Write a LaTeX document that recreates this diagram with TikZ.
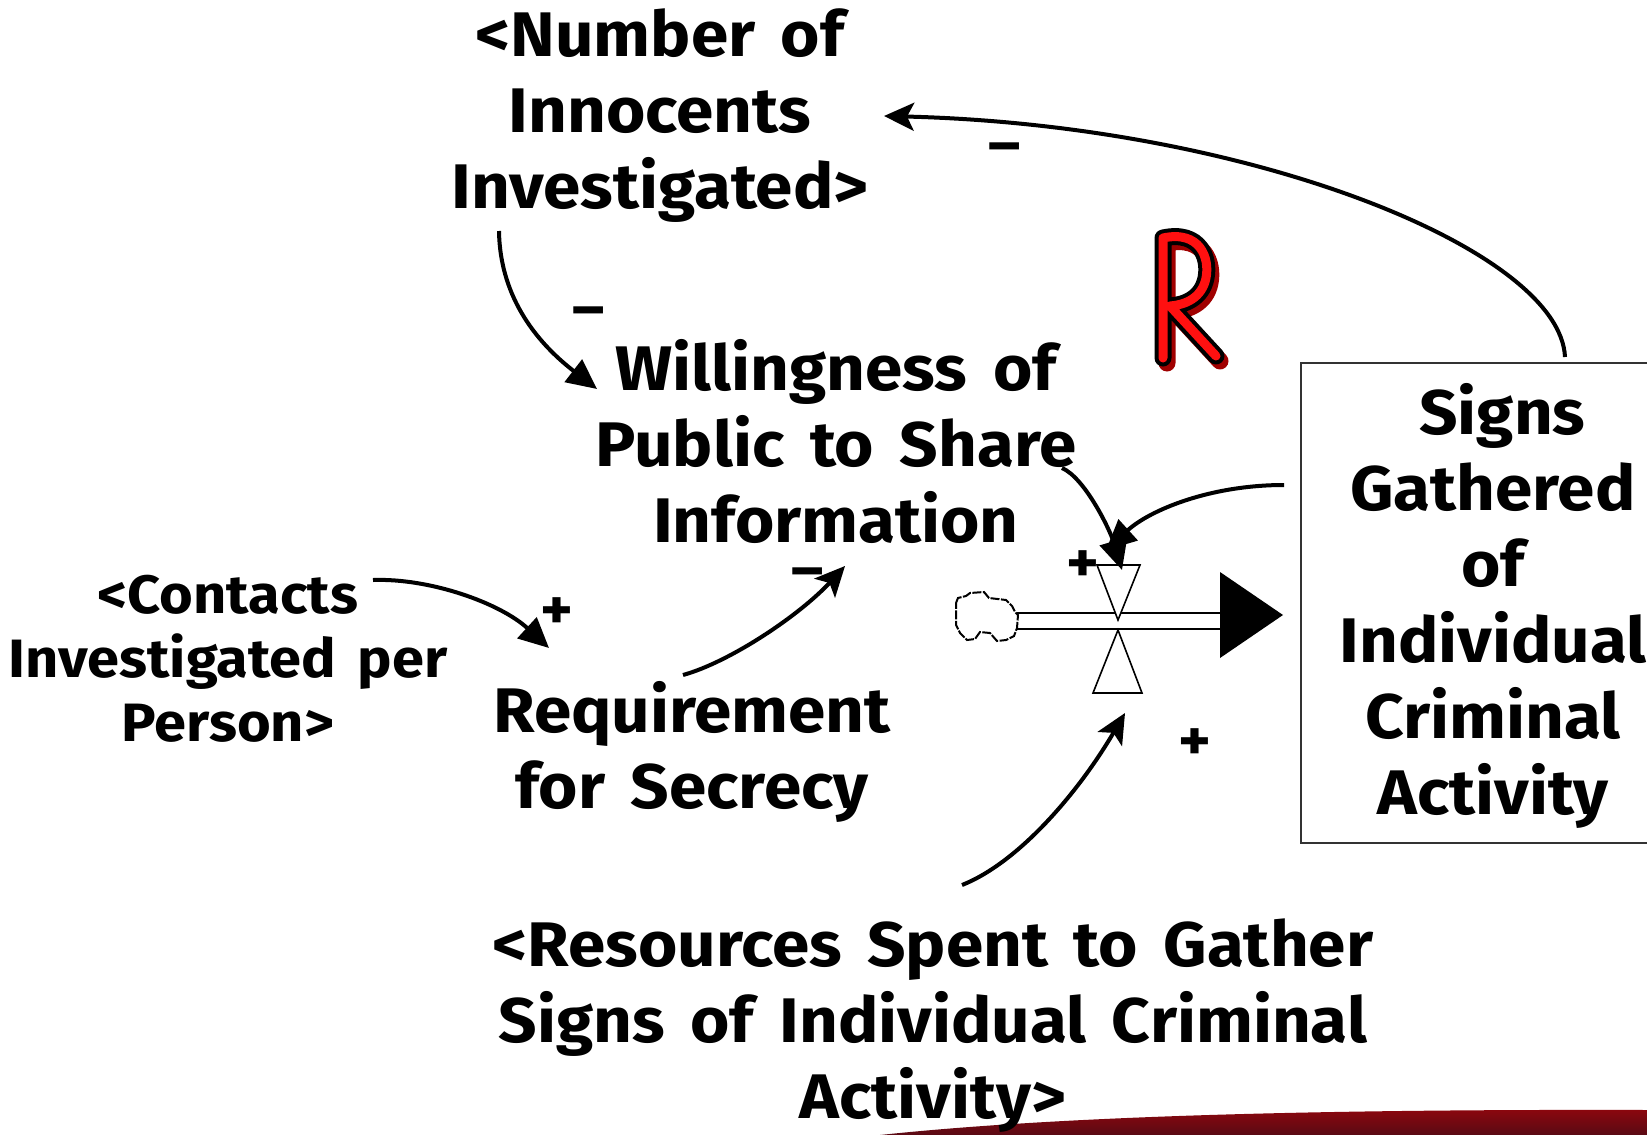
\documentclass[tikz,border=0pt]{standalone}
\usepackage{fontspec}
\setmainfont{Fira Sans}[FakeStretch=1.07, WordSpace=1.6]
\usetikzlibrary{arrows.meta}
\definecolor{rred}{HTML}{FF1010}
\definecolor{rshadow}{HTML}{A00000}
\definecolor{barred}{HTML}{5A0A14}
\tikzset{
  big/.style={font=\fontsize{63}{76}\selectfont\bfseries, align=center, inner sep=0pt},
  small/.style={font=\fontsize{54}{64}\selectfont\bfseries, align=center, inner sep=0pt},
  sign/.style={font=\fontsize{58}{58}\selectfont\bfseries, inner sep=0pt},
  link/.style={line width=4pt, -{Stealth[length=30pt,width=28pt,inset=7pt]}},
  tlink/.style={line width=4pt, -{Triangle[length=30pt,width=28pt]}},
  thin/.style={line width=1.6pt},
}
\begin{document}
\begin{tikzpicture}[x=1pt,y=-1pt]
\useasboundingbox (0,0) rectangle (1647,1135);
\fill[white] (0,0) rectangle (1647,1135);
% bottom swoosh
\shade[top color=barred!70!red, bottom color=barred] (880,1135) .. controls (1050,1117) and (1300,1109) .. (1647,1110) -- (1647,1135) -- cycle;

% text nodes
\node[big] (num) at (660,116) {<Number of\\Innocents\\Investigated>};
\node[big] (will) at (836,441) {Willingness of\\Public to Share\\Information};
\node[big] (req) at (692,752) {Requirement\\for Secrecy};
\node[small] (con) at (228,659) {<Contacts\\Investigated per\\Person>};
\node[big] (res) at (933,1026) {<Resources Spent to Gather\\Signs of Individual Criminal\\Activity>};

% stock box
\draw[thin, black!80] (1301,363) rectangle (1700,843);
\node[big] (stock) at (1493,606) {\hspace*{0.3em}Signs\\Gathered\\of\\Individual\\Criminal\\Activity};

% pipe and valve
\draw[thin] (1017,613) -- (1220,613);
\draw[thin] (1017,629) -- (1220,629);
\node[coordinate] (valve) at (1118,625) {};
\filldraw[thin, fill=white] (1097,565) -- (1140,565) -- (1118,620) -- cycle;
\filldraw[thin, fill=white] (1118,630) -- (1093,693) -- (1142,693) -- cycle;
\fill (1220,572) -- (1283,615) -- (1220,658) -- cycle;
% cloud
\draw[line width=2pt, dash pattern=on 9pt off 1.5pt, fill=white] (956,603) -- (958,598) -- (966,596) -- (970,593) -- (984,592) -- (989,598) -- (1006,600) -- (1012,606) -- (1015,612) -- (1018,615) -- (1017,628) -- (1014,636) -- (1006,640) -- (997,641) -- (990,633) -- (980,632) -- (975,639) -- (967,640) -- (960,633) -- (956,625) -- cycle;
\node[coordinate] (cloud) at (987,616) {};

% R loop marker
\begin{scope}[line cap=round, line join=round]
\draw[rshadow, line width=17pt, shift={(4,5)}] (1163,358) -- (1163,238) .. controls (1200,230) and (1210,258) .. (1206,278) .. controls (1202,298) and (1185,305) .. (1170,306) -- (1216,356);
\draw[black, line width=17pt] (1163,358) -- (1163,238) .. controls (1200,230) and (1210,258) .. (1206,278) .. controls (1202,298) and (1185,305) .. (1170,306) -- (1216,356);
\draw[rred, line width=9pt] (1163,358) -- (1163,238) .. controls (1200,230) and (1210,258) .. (1206,278) .. controls (1202,298) and (1185,305) .. (1170,306) -- (1216,356);
\end{scope}
\node[coordinate] (Rmark) at (1190,297) {};

% connector endpoints
\coordinate (s1) at (1565,357);
\coordinate (e1) at (884,116);
\coordinate (s2) at (499,231);
\coordinate (e2) at (597,389);
\coordinate (s3) at (373,580);
\coordinate (e3) at (549,648);
\coordinate (s4) at (683,675);
\coordinate (e4) at (845,566);
\coordinate (s5) at (1062,468);
\coordinate (e5) at (1122,570);
\coordinate (s6) at (1284,485);
\coordinate (e6) at (1106,550);
\coordinate (s7) at (962,885);
\coordinate (e7) at (1125,713);

\draw[link] (s1) .. controls (1560,250) and (1250,125) .. (e1);
\draw[tlink] (s2) .. controls (500,300) and (540,345) .. (e2);
\draw[tlink] (s3) .. controls (430,578) and (500,603) .. (e3);
\draw[link] (s4) .. controls (730,662) and (800,615) .. (e4);
\draw[tlink] (s5) .. controls (1085,478) and (1110,530) .. (e5);
\draw[tlink] (s6) .. controls (1210,485) and (1150,510) .. (e6);
\draw[link] (s7) .. controls (1020,862) and (1080,790) .. (e7);

% polarity signs
\node[sign] (p1) at (1005,154) {–};
\node[sign] (p2) at (589,318) {–};
\node[sign] (p3) at (557,614) {+};
\node[sign] (p4) at (808,579) {–};
\node[sign] (p5) at (1083,567) {+};
\node[sign] (p6) at (1195,745) {+};
\end{tikzpicture}
\end{document}
